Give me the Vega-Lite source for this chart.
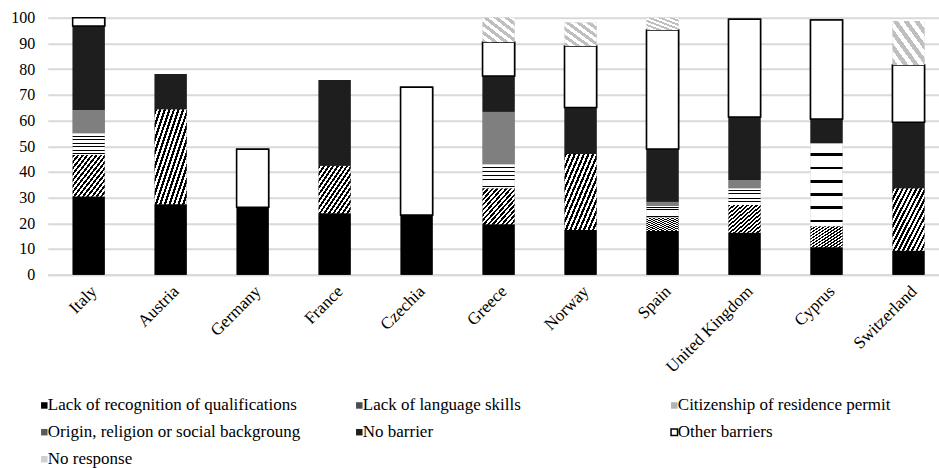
{
  "$schema": "https://vega.github.io/schema/vega-lite/v6.json",
  "width": 891,
  "height": 257,
  "autosize": {"type": "none"},
  "padding": {"left": 47.8, "top": 17.7, "right": 0, "bottom": 193.3},
  "background": "white",
  "config": {
    "view": {"stroke": null},
    "font": "Times New Roman",
    "axis": {"labelFont": "Times New Roman", "labelColor": "black", "title": null},
    "legend": {"labelFont": "Times New Roman", "padding": 0}
  },
  "data": {
    "values": [
      {"country": "Italy", "cat": "Lack of recognition of qualifications", "r": 1, "v": 30.4},
      {"country": "Italy", "cat": "Lack of language skills", "r": 2, "v": 16.2},
      {"country": "Italy", "cat": "Citizenship of residence permit", "r": 3, "v": 8.4},
      {"country": "Italy", "cat": "Origin, religion or social backgroung", "r": 4, "v": 9.1},
      {"country": "Italy", "cat": "No barrier", "r": 5, "v": 32.7},
      {"country": "Italy", "cat": "Other barriers", "r": 6, "v": 3.2},
      {"country": "Austria", "cat": "Lack of recognition of qualifications", "r": 1, "v": 27.4},
      {"country": "Austria", "cat": "Lack of language skills", "r": 2, "v": 37.0},
      {"country": "Austria", "cat": "No barrier", "r": 5, "v": 13.7},
      {"country": "Germany", "cat": "Lack of recognition of qualifications", "r": 1, "v": 26.2},
      {"country": "Germany", "cat": "Other barriers", "r": 6, "v": 22.6},
      {"country": "France", "cat": "Lack of recognition of qualifications", "r": 1, "v": 23.9},
      {"country": "France", "cat": "Lack of language skills", "r": 2, "v": 18.5},
      {"country": "France", "cat": "No barrier", "r": 5, "v": 33.4},
      {"country": "Czechia", "cat": "Lack of recognition of qualifications", "r": 1, "v": 23.2},
      {"country": "Czechia", "cat": "Other barriers", "r": 6, "v": 49.7},
      {"country": "Greece", "cat": "Lack of recognition of qualifications", "r": 1, "v": 19.6},
      {"country": "Greece", "cat": "Lack of language skills", "r": 2, "v": 14.0},
      {"country": "Greece", "cat": "Citizenship of residence permit", "r": 3, "v": 9.4},
      {"country": "Greece", "cat": "Origin, religion or social backgroung", "r": 4, "v": 20.4},
      {"country": "Greece", "cat": "No barrier", "r": 5, "v": 13.9},
      {"country": "Greece", "cat": "Other barriers", "r": 6, "v": 13.1},
      {"country": "Greece", "cat": "No response", "r": 7, "v": 9.6},
      {"country": "Norway", "cat": "Lack of recognition of qualifications", "r": 1, "v": 17.4},
      {"country": "Norway", "cat": "Lack of language skills", "r": 2, "v": 29.6},
      {"country": "Norway", "cat": "No barrier", "r": 5, "v": 18.1},
      {"country": "Norway", "cat": "Other barriers", "r": 6, "v": 23.9},
      {"country": "Norway", "cat": "No response", "r": 7, "v": 9.1},
      {"country": "Spain", "cat": "Lack of recognition of qualifications", "r": 1, "v": 17.0},
      {"country": "Spain", "cat": "Lack of language skills", "r": 2, "v": 5.3},
      {"country": "Spain", "cat": "Citizenship of residence permit", "r": 3, "v": 4.4},
      {"country": "Spain", "cat": "Origin, religion or social backgroung", "r": 4, "v": 1.7},
      {"country": "Spain", "cat": "No barrier", "r": 5, "v": 20.5},
      {"country": "Spain", "cat": "Other barriers", "r": 6, "v": 46.3},
      {"country": "Spain", "cat": "No response", "r": 7, "v": 4.8},
      {"country": "United Kingdom", "cat": "Lack of recognition of qualifications", "r": 1, "v": 16.3},
      {"country": "United Kingdom", "cat": "Lack of language skills", "r": 2, "v": 10.8},
      {"country": "United Kingdom", "cat": "Citizenship of residence permit", "r": 3, "v": 6.5},
      {"country": "United Kingdom", "cat": "Origin, religion or social backgroung", "r": 4, "v": 3.2},
      {"country": "United Kingdom", "cat": "No barrier", "r": 5, "v": 24.6},
      {"country": "United Kingdom", "cat": "Other barriers", "r": 6, "v": 38.0},
      {"country": "Cyprus", "cat": "Lack of recognition of qualifications", "r": 1, "v": 10.7},
      {"country": "Cyprus", "cat": "Lack of language skills", "r": 2, "v": 8.2},
      {"country": "Cyprus", "cat": "Citizenship of residence permit", "r": 3, "v": 32.2},
      {"country": "Cyprus", "cat": "No barrier", "r": 5, "v": 9.5},
      {"country": "Cyprus", "cat": "Other barriers", "r": 6, "v": 38.5},
      {"country": "Switzerland", "cat": "Lack of recognition of qualifications", "r": 1, "v": 9.3},
      {"country": "Switzerland", "cat": "Lack of language skills", "r": 2, "v": 24.3},
      {"country": "Switzerland", "cat": "No barrier", "r": 5, "v": 25.7},
      {"country": "Switzerland", "cat": "Other barriers", "r": 6, "v": 22.3},
      {"country": "Switzerland", "cat": "No response", "r": 7, "v": 17.1}
    ]
  },
  "encoding": {
    "x": {
      "field": "country",
      "type": "nominal",
      "sort": null,
      "scale": {"paddingInner": 0.61, "paddingOuter": 0.239, "align": 0.635},
      "axis": {
        "labelAngle": -45,
        "labelFontSize": 17,
        "ticks": false,
        "labelPadding": 8,
        "domainColor": "#d9d9d9",
        "domainWidth": 2,
        "grid": false
      }
    },
    "y": {
      "field": "v",
      "type": "quantitative",
      "stack": "zero",
      "scale": {"domain": [0, 100], "nice": false},
      "axis": {
        "values": [0, 10, 20, 30, 40, 50, 60, 70, 80, 90, 100],
        "labelFontSize": 16,
        "ticks": false,
        "domain": false,
        "labelPadding": 13,
        "gridColor": "#d9d9d9",
        "gridWidth": 2
      }
    },
    "order": {"field": "r", "type": "quantitative"}
  },
  "layer": [
    {
      "mark": {"type": "bar", "strokeWidth": 1.5},
      "encoding": {
        "fill": {
          "field": "cat",
          "type": "nominal",
          "scale": {
            "domain": [
              "Lack of recognition of qualifications",
              "Lack of language skills",
              "Citizenship of residence permit",
              "Origin, religion or social backgroung",
              "No barrier",
              "Other barriers",
              "No response"
            ],
            "range": ["#000000", "#4d4d4d", "#b3b3b3", "#5a5a5a", "#1e1e1e", "#ffffff", "#cfcfcf"]
          },
          "legend": {
            "orient": "none",
            "legendX": -12,
            "legendY": 379,
            "direction": "horizontal",
            "columns": 3,
            "title": null,
            "symbolType": "square",
            "symbolSize": 42,
            "symbolStrokeWidth": 1.5,
            "labelFontSize": 17,
            "labelColor": "black",
            "labelOffset": -5,
            "gridAlign": "all",
            "columnPadding": 50,
            "rowPadding": 9,
            "labelLimit": 400
          }
        },
        "stroke": {
          "field": "cat",
          "type": "nominal",
          "scale": {
            "domain": [
              "Lack of recognition of qualifications",
              "Lack of language skills",
              "Citizenship of residence permit",
              "Origin, religion or social backgroung",
              "No barrier",
              "Other barriers",
              "No response"
            ],
            "range": ["transparent", "transparent", "transparent", "transparent", "transparent", "#000000", "transparent"]
          },
          "legend": null
        }
      }
    },
    {
      "mark": {"type": "bar", "strokeWidth": 1.5},
      "encoding": {
        "detail": {"field": "cat"},
        "stroke": {
          "condition": {"test": "datum.cat === 'Other barriers'", "value": "#000000"},
          "value": null
        },
        "fill": {
          "condition": [
            {"test": "datum.cat === 'Lack of language skills'", "value": {"gradient": "linear", "x1": 0, "y1": 0, "x2": 1, "y2": 1, "stops": [
              {"offset": 0, "color": "#000"}, {"offset": 0.036, "color": "#000"}, {"offset": 0.036, "color": "#fff"}, {"offset": 0.071, "color": "#fff"},
              {"offset": 0.071, "color": "#000"}, {"offset": 0.107, "color": "#000"}, {"offset": 0.107, "color": "#fff"}, {"offset": 0.143, "color": "#fff"},
              {"offset": 0.143, "color": "#000"}, {"offset": 0.179, "color": "#000"}, {"offset": 0.179, "color": "#fff"}, {"offset": 0.214, "color": "#fff"},
              {"offset": 0.214, "color": "#000"}, {"offset": 0.25, "color": "#000"}, {"offset": 0.25, "color": "#fff"}, {"offset": 0.286, "color": "#fff"},
              {"offset": 0.286, "color": "#000"}, {"offset": 0.321, "color": "#000"}, {"offset": 0.321, "color": "#fff"}, {"offset": 0.357, "color": "#fff"},
              {"offset": 0.357, "color": "#000"}, {"offset": 0.393, "color": "#000"}, {"offset": 0.393, "color": "#fff"}, {"offset": 0.429, "color": "#fff"},
              {"offset": 0.429, "color": "#000"}, {"offset": 0.464, "color": "#000"}, {"offset": 0.464, "color": "#fff"}, {"offset": 0.5, "color": "#fff"},
              {"offset": 0.5, "color": "#000"}, {"offset": 0.536, "color": "#000"}, {"offset": 0.536, "color": "#fff"}, {"offset": 0.571, "color": "#fff"},
              {"offset": 0.571, "color": "#000"}, {"offset": 0.607, "color": "#000"}, {"offset": 0.607, "color": "#fff"}, {"offset": 0.643, "color": "#fff"},
              {"offset": 0.643, "color": "#000"}, {"offset": 0.679, "color": "#000"}, {"offset": 0.679, "color": "#fff"}, {"offset": 0.714, "color": "#fff"},
              {"offset": 0.714, "color": "#000"}, {"offset": 0.75, "color": "#000"}, {"offset": 0.75, "color": "#fff"}, {"offset": 0.786, "color": "#fff"},
              {"offset": 0.786, "color": "#000"}, {"offset": 0.821, "color": "#000"}, {"offset": 0.821, "color": "#fff"}, {"offset": 0.857, "color": "#fff"},
              {"offset": 0.857, "color": "#000"}, {"offset": 0.893, "color": "#000"}, {"offset": 0.893, "color": "#fff"}, {"offset": 0.929, "color": "#fff"},
              {"offset": 0.929, "color": "#000"}, {"offset": 0.964, "color": "#000"}, {"offset": 0.964, "color": "#fff"}, {"offset": 1, "color": "#fff"}
            ]}},
            {"test": "datum.cat === 'Citizenship of residence permit'", "value": {"gradient": "linear", "x1": 0, "y1": 0, "x2": 0, "y2": 1, "stops": [
              {"offset": 0, "color": "#fff"}, {"offset": 0.12, "color": "#fff"}, {"offset": 0.12, "color": "#000"}, {"offset": 0.155, "color": "#000"}, {"offset": 0.155, "color": "#fff"},
              {"offset": 0.28, "color": "#fff"}, {"offset": 0.28, "color": "#000"}, {"offset": 0.315, "color": "#000"}, {"offset": 0.315, "color": "#fff"},
              {"offset": 0.44, "color": "#fff"}, {"offset": 0.44, "color": "#000"}, {"offset": 0.475, "color": "#000"}, {"offset": 0.475, "color": "#fff"},
              {"offset": 0.6, "color": "#fff"}, {"offset": 0.6, "color": "#000"}, {"offset": 0.635, "color": "#000"}, {"offset": 0.635, "color": "#fff"},
              {"offset": 0.76, "color": "#fff"}, {"offset": 0.76, "color": "#000"}, {"offset": 0.795, "color": "#000"}, {"offset": 0.795, "color": "#fff"},
              {"offset": 0.92, "color": "#fff"}, {"offset": 0.92, "color": "#000"}, {"offset": 0.955, "color": "#000"}, {"offset": 0.955, "color": "#fff"}, {"offset": 1, "color": "#fff"}
            ]}},
            {"test": "datum.cat === 'No response'", "value": {"gradient": "linear", "x1": 0, "y1": 1, "x2": 1, "y2": 0, "stops": [
              {"offset": 0, "color": "#bfbfbf"}, {"offset": 0.083, "color": "#bfbfbf"}, {"offset": 0.083, "color": "#fff"}, {"offset": 0.167, "color": "#fff"},
              {"offset": 0.167, "color": "#bfbfbf"}, {"offset": 0.25, "color": "#bfbfbf"}, {"offset": 0.25, "color": "#fff"}, {"offset": 0.333, "color": "#fff"},
              {"offset": 0.333, "color": "#bfbfbf"}, {"offset": 0.417, "color": "#bfbfbf"}, {"offset": 0.417, "color": "#fff"}, {"offset": 0.5, "color": "#fff"},
              {"offset": 0.5, "color": "#bfbfbf"}, {"offset": 0.583, "color": "#bfbfbf"}, {"offset": 0.583, "color": "#fff"}, {"offset": 0.667, "color": "#fff"},
              {"offset": 0.667, "color": "#bfbfbf"}, {"offset": 0.75, "color": "#bfbfbf"}, {"offset": 0.75, "color": "#fff"}, {"offset": 0.833, "color": "#fff"},
              {"offset": 0.833, "color": "#bfbfbf"}, {"offset": 0.917, "color": "#bfbfbf"}, {"offset": 0.917, "color": "#fff"}, {"offset": 1, "color": "#fff"}
            ]}},
            {"test": "datum.cat === 'Origin, religion or social backgroung'", "value": "#7f7f7f"},
            {"test": "datum.cat === 'No barrier'", "value": "#1e1e1e"},
            {"test": "datum.cat === 'Other barriers'", "value": "#ffffff"}
          ],
          "value": "#000000"
        }
      }
    }
  ]
}
